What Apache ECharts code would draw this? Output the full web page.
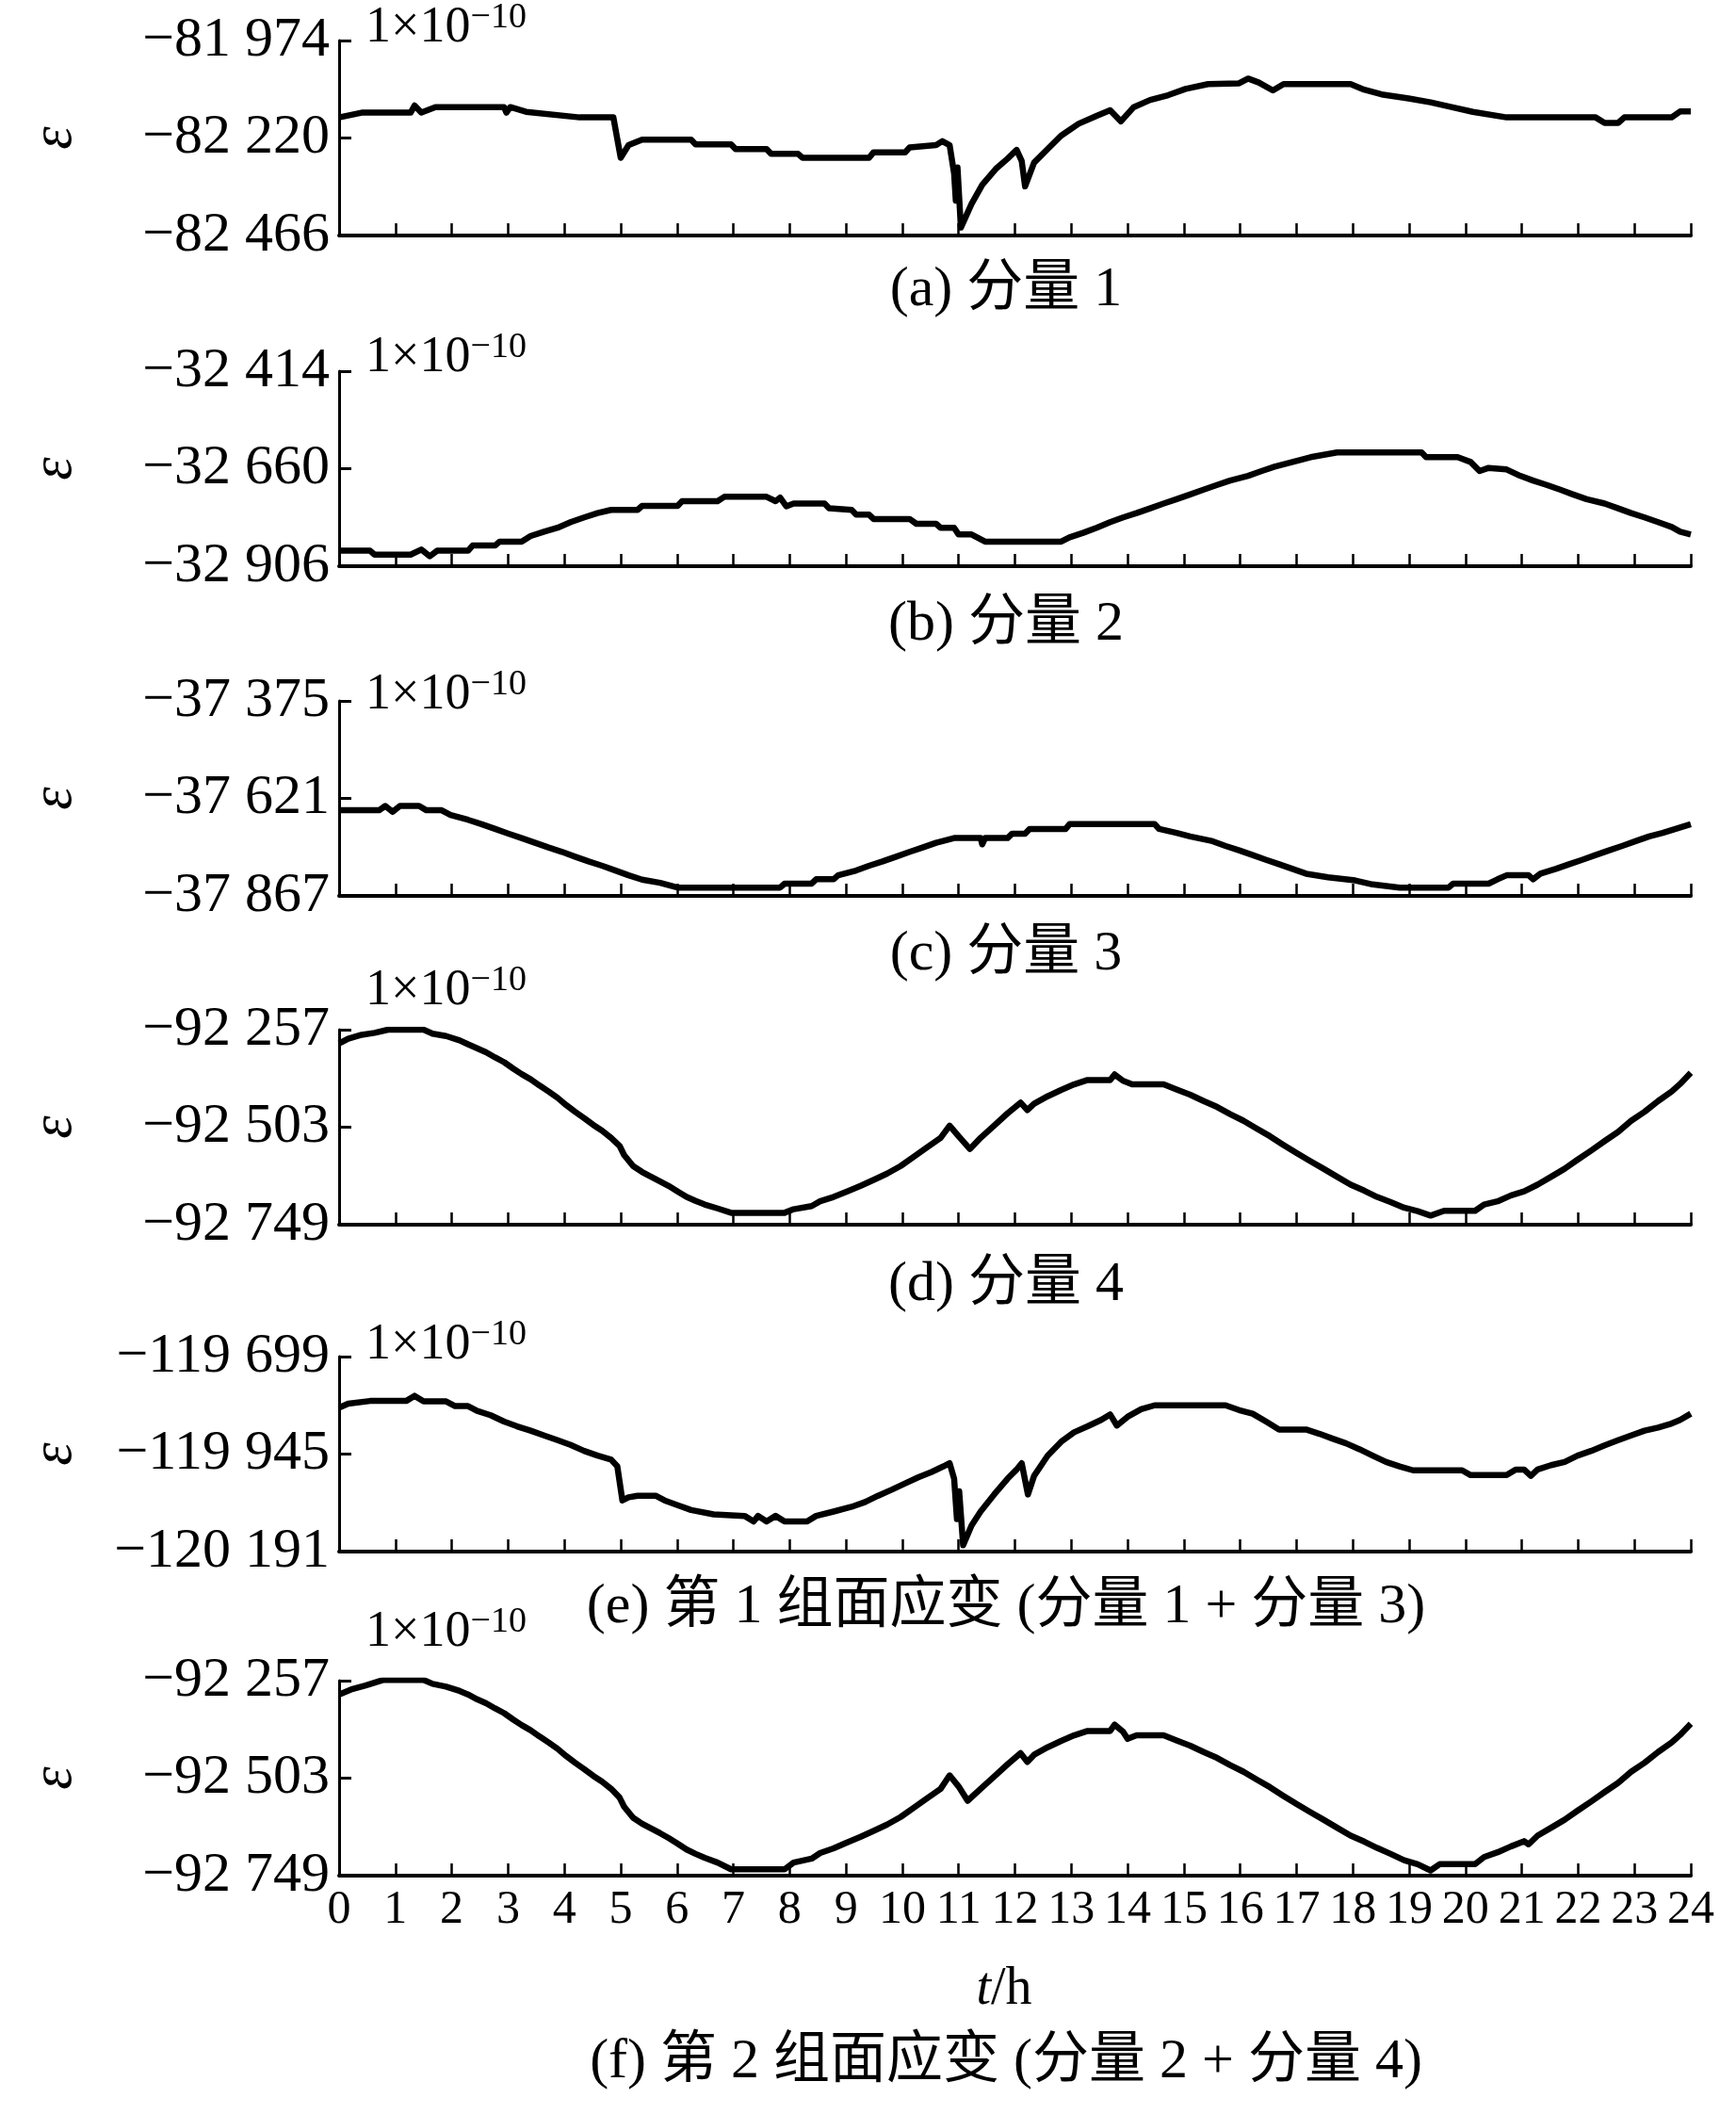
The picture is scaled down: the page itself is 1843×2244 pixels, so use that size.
<!DOCTYPE html>
<html>
<head>
<meta charset="utf-8">
<script src="https://cdn.jsdelivr.net/npm/echarts@6/dist/echarts.min.js"></script>
<style>
html, body { margin: 0; padding: 0; background: #fff; }
#chart { width: 1843px; height: 2244px; }
</style>
</head>
<body>
<div id="chart"></div>
<script>
// hour ticks on the shared time axis
var hourTicks = [0, 1, 2, 3, 4, 5, 6, 7, 8, 9, 10, 11, 12, 13, 14, 15, 16, 17, 18, 19, 20, 21, 22, 23, 24];

// y tick values (bottom, middle, top) of each panel, unit 1e-10
var ticksA = [-82466, -82220, -81974];
var ticksB = [-32906, -32660, -32414];
var ticksC = [-37867, -37621, -37375];
var ticksD = [-92749, -92503, -92257];
var ticksE = [-120191, -119945, -119699];
var ticksF = [-92749, -92503, -92257];

var captions = [
  '(a) 分量 1',
  '(b) 分量 2',
  '(c) 分量 3',
  '(d) 分量 4',
  '(e) 第 1 组面应变 (分量 1 + 分量 3)',
  '(f) 第 2 组面应变 (分量 2 + 分量 4)'
];

// [t (h), strain]
var comp1 = [[0,-82168],[0.40,-82156],[1.27,-82156],[1.34,-82138],[1.46,-82156],[1.71,-82142],[2.93,-82142],[2.97,-82156],[3.04,-82142],[3.32,-82154],[4.27,-82168],[4.87,-82168],[5.00,-82270],[5.14,-82238],[5.38,-82224],[6.25,-82224],[6.33,-82236],[6.96,-82236],[7.04,-82248],[7.59,-82248],[7.67,-82260],[8.15,-82260],[8.23,-82270],[9.41,-82270],[9.49,-82256],[10.05,-82256],[10.13,-82244],[10.60,-82238],[10.71,-82228],[10.84,-82238],[10.92,-82310],[10.95,-82378],[10.98,-82294],[11.04,-82446],[11.23,-82386],[11.42,-82338],[11.66,-82298],[11.87,-82272],[12.03,-82250],[12.12,-82278],[12.18,-82342],[12.34,-82282],[12.58,-82248],[12.82,-82214],[13.13,-82184],[13.45,-82164],[13.69,-82150],[13.88,-82178],[14.11,-82142],[14.40,-82124],[14.72,-82112],[15.03,-82096],[15.43,-82084],[15.98,-82082],[16.14,-82070],[16.33,-82080],[16.58,-82100],[16.77,-82084],[17.96,-82084],[18.20,-82098],[18.51,-82110],[18.99,-82120],[19.38,-82130],[19.75,-82142],[20.13,-82154],[20.73,-82168],[22.31,-82168],[22.47,-82182],[22.71,-82182],[22.82,-82168],[23.66,-82168],[23.81,-82153],[24,-82153]];

var comp2 = [[0,-32867],[0.55,-32867],[0.63,-32877],[1.27,-32877],[1.46,-32864],[1.61,-32881],[1.74,-32867],[2.29,-32867],[2.37,-32854],[2.77,-32854],[2.85,-32844],[3.24,-32844],[3.40,-32830],[3.64,-32819],[3.88,-32809],[4.11,-32795],[4.35,-32783],[4.59,-32772],[4.83,-32764],[5.30,-32764],[5.38,-32754],[6.01,-32754],[6.09,-32742],[6.72,-32742],[6.84,-32731],[7.59,-32731],[7.75,-32742],[7.83,-32733],[7.94,-32755],[8.07,-32748],[8.62,-32748],[8.70,-32760],[9.10,-32764],[9.18,-32776],[9.41,-32776],[9.49,-32787],[10.13,-32787],[10.25,-32799],[10.60,-32799],[10.68,-32809],[10.92,-32809],[11.00,-32826],[11.23,-32826],[11.47,-32844],[12.82,-32844],[12.97,-32833],[13.21,-32822],[13.45,-32809],[13.69,-32795],[13.92,-32783],[14.16,-32772],[14.40,-32760],[14.64,-32748],[14.87,-32737],[15.11,-32725],[15.35,-32713],[15.59,-32701],[15.82,-32690],[16.14,-32678],[16.38,-32666],[16.61,-32655],[16.93,-32643],[17.25,-32631],[17.72,-32619],[19.22,-32619],[19.30,-32631],[19.86,-32631],[20.09,-32643],[20.25,-32666],[20.41,-32658],[20.73,-32662],[20.97,-32678],[21.20,-32690],[21.44,-32701],[21.68,-32713],[21.91,-32725],[22.15,-32737],[22.47,-32748],[22.71,-32760],[22.94,-32772],[23.18,-32783],[23.42,-32795],[23.66,-32807],[23.81,-32819],[24,-32826]];

var comp3 = [[0,-37651],[0.71,-37651],[0.82,-37640],[0.95,-37655],[1.08,-37640],[1.42,-37640],[1.55,-37651],[1.82,-37651],[1.98,-37663],[2.29,-37675],[2.53,-37686],[2.77,-37698],[3.01,-37710],[3.24,-37721],[3.48,-37733],[3.72,-37745],[3.96,-37756],[4.19,-37768],[4.43,-37780],[4.67,-37791],[4.91,-37803],[5.14,-37815],[5.38,-37826],[5.70,-37834],[6.01,-37846],[7.83,-37846],[7.91,-37836],[8.39,-37836],[8.47,-37825],[8.78,-37825],[8.86,-37815],[9.18,-37803],[9.41,-37791],[9.65,-37780],[9.89,-37768],[10.13,-37756],[10.36,-37745],[10.60,-37733],[10.92,-37721],[11.39,-37721],[11.42,-37737],[11.47,-37721],[11.87,-37721],[11.95,-37710],[12.18,-37710],[12.26,-37698],[12.90,-37698],[12.97,-37686],[14.48,-37686],[14.56,-37698],[14.87,-37708],[15.11,-37717],[15.51,-37729],[15.74,-37741],[15.98,-37752],[16.22,-37764],[16.46,-37776],[16.69,-37787],[16.93,-37799],[17.17,-37811],[17.56,-37820],[18.04,-37828],[18.35,-37838],[18.83,-37846],[19.70,-37846],[19.78,-37836],[20.41,-37836],[20.57,-37825],[20.73,-37815],[21.12,-37815],[21.20,-37825],[21.33,-37811],[21.60,-37799],[21.84,-37787],[22.07,-37776],[22.31,-37764],[22.55,-37752],[22.78,-37741],[23.02,-37729],[23.26,-37717],[23.50,-37708],[23.73,-37698],[24,-37686]];

var comp4 = [[0,-92292],[0.16,-92280],[0.40,-92270],[0.63,-92265],[0.87,-92257],[1.50,-92257],[1.66,-92267],[1.90,-92273],[2.14,-92284],[2.29,-92294],[2.45,-92304],[2.61,-92314],[2.77,-92327],[2.93,-92339],[3.09,-92355],[3.24,-92369],[3.40,-92382],[3.56,-92398],[3.72,-92413],[3.88,-92429],[4.03,-92447],[4.19,-92464],[4.35,-92480],[4.51,-92497],[4.67,-92512],[4.83,-92530],[4.98,-92550],[5.06,-92573],[5.22,-92601],[5.38,-92616],[5.54,-92628],[5.70,-92640],[5.85,-92651],[6.01,-92665],[6.17,-92679],[6.33,-92689],[6.49,-92698],[6.72,-92708],[6.96,-92719],[7.91,-92719],[8.07,-92710],[8.39,-92702],[8.54,-92690],[8.78,-92679],[9.02,-92665],[9.26,-92651],[9.49,-92636],[9.73,-92620],[9.97,-92601],[10.21,-92577],[10.44,-92554],[10.68,-92530],[10.84,-92499],[11.00,-92526],[11.20,-92558],[11.39,-92530],[11.63,-92499],[11.87,-92468],[12.10,-92441],[12.22,-92460],[12.34,-92444],[12.58,-92425],[12.82,-92409],[13.05,-92395],[13.29,-92384],[13.69,-92384],[13.77,-92370],[13.92,-92386],[14.08,-92395],[14.64,-92395],[14.87,-92408],[15.11,-92421],[15.35,-92437],[15.59,-92452],[15.82,-92470],[16.06,-92487],[16.30,-92507],[16.53,-92526],[16.77,-92548],[17.01,-92569],[17.25,-92589],[17.48,-92608],[17.72,-92628],[17.96,-92648],[18.20,-92663],[18.43,-92679],[18.67,-92692],[18.91,-92706],[19.15,-92715],[19.38,-92726],[19.62,-92714],[20.17,-92714],[20.33,-92698],[20.57,-92690],[20.81,-92675],[21.04,-92665],[21.28,-92648],[21.52,-92628],[21.76,-92608],[21.99,-92585],[22.23,-92562],[22.47,-92538],[22.71,-92515],[22.94,-92487],[23.18,-92464],[23.42,-92437],[23.66,-92413],[23.81,-92394],[24,-92366]];

var group1 = [[0,-119828],[0.16,-119818],[0.55,-119811],[1.19,-119811],[1.34,-119798],[1.50,-119812],[1.90,-119812],[2.06,-119824],[2.29,-119824],[2.45,-119836],[2.69,-119847],[2.93,-119863],[3.16,-119875],[3.40,-119886],[3.64,-119898],[3.88,-119910],[4.11,-119922],[4.35,-119937],[4.59,-119949],[4.83,-119959],[4.94,-119976],[5.03,-120062],[5.14,-120054],[5.30,-120050],[5.62,-120050],[5.78,-120062],[6.01,-120074],[6.25,-120086],[6.65,-120097],[7.20,-120101],[7.36,-120115],[7.44,-120101],[7.59,-120115],[7.75,-120101],[7.91,-120115],[8.31,-120115],[8.47,-120101],[8.78,-120090],[9.10,-120078],[9.34,-120066],[9.57,-120050],[9.81,-120035],[10.05,-120019],[10.28,-120004],[10.52,-119990],[10.73,-119976],[10.84,-119968],[10.92,-120007],[10.97,-120109],[11.01,-120039],[11.08,-120175],[11.23,-120125],[11.39,-120090],[11.63,-120047],[11.87,-120007],[12.03,-119984],[12.12,-119968],[12.23,-120047],[12.34,-120000],[12.58,-119949],[12.82,-119914],[13.05,-119890],[13.29,-119875],[13.53,-119859],[13.69,-119845],[13.81,-119873],[14.00,-119851],[14.24,-119832],[14.48,-119822],[15.74,-119822],[15.98,-119834],[16.22,-119843],[16.46,-119863],[16.69,-119883],[17.17,-119883],[17.41,-119894],[17.64,-119906],[17.88,-119918],[18.12,-119933],[18.35,-119949],[18.59,-119965],[18.83,-119976],[19.07,-119986],[19.94,-119986],[20.09,-119998],[20.73,-119998],[20.89,-119984],[21.04,-119984],[21.16,-120000],[21.28,-119984],[21.52,-119973],[21.76,-119965],[21.99,-119949],[22.23,-119937],[22.47,-119923],[22.71,-119910],[22.94,-119898],[23.18,-119886],[23.42,-119878],[23.66,-119868],[23.81,-119859],[24,-119843]];

var group2 = [[0,-92292],[0.24,-92278],[0.47,-92269],[0.79,-92255],[1.50,-92255],[1.66,-92265],[1.90,-92272],[2.14,-92283],[2.29,-92292],[2.45,-92304],[2.61,-92314],[2.77,-92327],[2.93,-92339],[3.09,-92355],[3.24,-92369],[3.40,-92382],[3.56,-92398],[3.72,-92413],[3.88,-92429],[4.03,-92447],[4.19,-92464],[4.35,-92480],[4.51,-92497],[4.67,-92512],[4.83,-92530],[4.98,-92552],[5.06,-92575],[5.22,-92603],[5.38,-92618],[5.54,-92630],[5.70,-92642],[5.85,-92654],[6.01,-92668],[6.17,-92683],[6.33,-92694],[6.49,-92704],[6.72,-92716],[6.96,-92733],[7.91,-92733],[8.07,-92716],[8.39,-92706],[8.54,-92692],[8.78,-92680],[9.02,-92665],[9.26,-92651],[9.49,-92636],[9.73,-92620],[9.97,-92601],[10.21,-92577],[10.44,-92554],[10.68,-92530],[10.84,-92496],[11.00,-92524],[11.16,-92560],[11.39,-92530],[11.63,-92499],[11.87,-92468],[12.10,-92440],[12.22,-92462],[12.34,-92444],[12.58,-92425],[12.82,-92409],[13.05,-92395],[13.29,-92384],[13.69,-92384],[13.77,-92368],[13.92,-92386],[14.00,-92404],[14.16,-92395],[14.64,-92395],[14.87,-92408],[15.11,-92421],[15.35,-92437],[15.59,-92452],[15.82,-92470],[16.06,-92487],[16.30,-92507],[16.53,-92526],[16.77,-92548],[17.01,-92569],[17.25,-92589],[17.48,-92608],[17.72,-92628],[17.96,-92648],[18.20,-92663],[18.43,-92679],[18.67,-92694],[18.91,-92710],[19.15,-92720],[19.38,-92736],[19.54,-92720],[20.17,-92720],[20.33,-92702],[20.57,-92690],[20.81,-92675],[21.04,-92662],[21.12,-92670],[21.28,-92648],[21.52,-92628],[21.76,-92608],[21.99,-92585],[22.23,-92562],[22.47,-92538],[22.71,-92515],[22.94,-92487],[23.18,-92464],[23.42,-92437],[23.66,-92413],[23.81,-92394],[24,-92366]];

var seriesData = [comp1, comp2, comp3, comp4, group1, group2];
var panelTicks = [ticksA, ticksB, ticksC, ticksD, ticksE, ticksF];

// layout (pixels)
var gridTops = [43, 394, 744, 1093, 1440, 1784];
var gridHeight = 207;
var plotLeft = 360, plotRight = 48;
var captionY = [308, 663, 1013, 1364, 1706, 2189];
var unitY = [30, 380, 738, 1052, 1428, 1733];

var serif = '"Liberation Serif", "Times New Roman", "Noto Sans CJK SC", serif';

function fmtStrain(v) {
  var s = String(Math.abs(v));
  return '\u2212' + s.slice(0, s.length - 3) + ' ' + s.slice(-3);
}

var grids = [], xAxes = [], yAxes = [], series = [], graphics = [];

for (var i = 0; i < 6; i++) {
  var ticks = panelTicks[i];
  var last = i === 5;
  grids.push({ left: plotLeft, right: plotRight, top: gridTops[i], height: gridHeight });
  xAxes.push({
    type: 'value', gridIndex: i, min: 0, max: 24, interval: 1,
    axisLine: { show: true, lineStyle: { color: '#000', width: 4 } },
    axisTick: { show: true, inside: true, length: 13, lineStyle: { color: '#000', width: 2.5 } },
    axisLabel: {
      show: last, color: '#000', fontFamily: serif, fontSize: 50, margin: 12,
      customValues: hourTicks
    },
    splitLine: { show: false }
  });
  yAxes.push({
    type: 'value', gridIndex: i, min: ticks[0], max: ticks[2],
    name: 'ε', nameLocation: 'middle', nameGap: 270, nameRotate: 90,
    nameTextStyle: { color: '#000', fontFamily: serif, fontStyle: 'italic', fontSize: 62 },
    axisLine: { show: true, lineStyle: { color: '#000', width: 3 } },
    axisTick: { show: true, inside: true, length: 13, lineStyle: { color: '#000', width: 3 }, customValues: ticks },
    axisLabel: {
      color: '#000', fontFamily: serif, fontSize: 60, margin: 10,
      customValues: ticks, formatter: fmtStrain
    },
    splitLine: { show: false }
  });
  series.push({
    type: 'line', xAxisIndex: i, yAxisIndex: i, data: seriesData[i],
    showSymbol: false, animation: false,
    lineStyle: { color: '#000', width: 6.5, join: 'round' }
  });
  graphics.push({
    type: 'text', x: 1068, y: captionY[i],
    style: { text: captions[i], fill: '#000', font: '60px ' + serif, align: 'center', verticalAlign: 'middle' }
  });
  graphics.push({
    type: 'text', x: 388, y: unitY[i],
    style: {
      text: '1×10{s|\u221210}', fill: '#000', font: '54px ' + serif, verticalAlign: 'middle',
      rich: { s: { fontSize: 38, fontFamily: serif, verticalAlign: 'top', padding: [0, 0, 22, 0] } }
    }
  });
}

graphics.push({
  type: 'text', x: 1066, y: 2112,
  style: {
    text: '{i|t}/h', fill: '#000', font: '56px ' + serif, align: 'center', verticalAlign: 'middle',
    rich: { i: { fontStyle: 'italic', fontSize: 56, fontFamily: serif } }
  }
});

var chart = echarts.init(document.getElementById('chart'));
chart.setOption({
  backgroundColor: '#fff',
  animation: false,
  grid: grids,
  xAxis: xAxes,
  yAxis: yAxes,
  series: series,
  graphic: graphics
});
</script>
</body>
</html>
